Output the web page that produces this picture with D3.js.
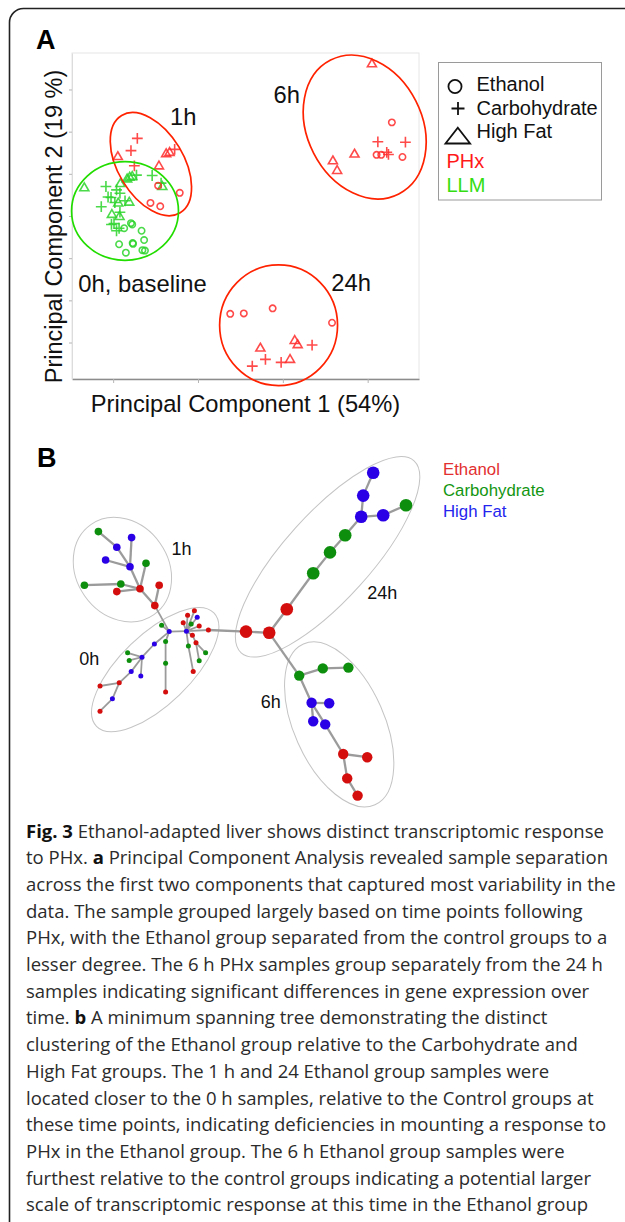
<!DOCTYPE html>
<html lang="en">
<head>
<meta charset="UTF-8">
<title>Fig. 3 PCA and minimum spanning tree</title>
<script src="https://cdn.jsdelivr.net/npm/d3@7"></script>
<style>
  body { margin: 0; background: #fff; }
</style>
</head>
<body>
<script>
// ---------- panel A : PCA scores, [PC1, PC2] ----------
var pc1Ticks = [-20, 0, 20, 40];
var pc2Ticks = [-30, -20, -10, 0, 10, 20, 30];

var phxEthanol = [[-9.4, 7.2], [-4.3, 5.5], [-11.2, 3.1], [-8.9, 2.3],
    [45.7, 22.2], [42.1, 14.5], [43.2, 14.5], [48.2, 14.0],
    [7.6, -23.2], [10.8, -23.1], [17.6, -21.9], [31.6, -25.3]];
var phxCarbohydrate = [[-14.3, 18.4], [-15.8, 15.5], [-5.5, 15.8], [-15.0, 11.9],
    [42.4, 17.6], [48.9, 17.5], [44.5, 15.1], [44.9, 14.6],
    [26.9, -30.6], [15.9, -34.0], [12.8, -35.6], [19.6, -34.7]];
var phxHighFat = [[-18.9, 14.0], [-7.5, 14.7], [-6.7, 15.0], [-9.2, 11.8],
    [41.0, 36.0], [36.9, 14.6], [31.8, 13.0], [32.8, 10.7],
    [14.7, -31.4], [22.8, -29.6], [23.5, -30.6], [21.7, -34.1]];
var llmEthanol = [[-17.4, -2.9], [-15.8, -1.7], [-15.5, -2.0], [-13.3, -3.5], [-18.6, -6.7],
    [-15.4, -6.4], [-15.3, -6.6], [-12.7, -5.7], [-17.0, -8.7], [-13.1, -8.1], [-12.5, -8.2]];
var llmCarbohydrate = [[-21.7, 7.0], [-19.2, 6.2], [-14.5, 9.7], [-10.8, 9.6], [-8.7, 7.8],
    [-21.2, 4.5], [-20.5, 4.4], [-18.4, 5.4], [-19.6, 3.2], [-17.2, 3.6], [-22.8, 2.2],
    [-18.4, 0.9], [-20.4, -2.0], [-19.8, -1.8], [-19.2, -3.5], [-18.6, -2.9]];
var llmHighFat = [[-26.8, 6.6], [-16.7, 8.7], [-16.1, 9.1], [-15.5, 9.3], [-8.4, 6.9],
    [-18.8, 3.0], [-16.2, 3.2], [-20.3, 0.3], [-18.5, -0.2], [-18.3, 7.6]];

// time point rings (PC units): centre, semi axes, tilt in degrees
var pcaRingNames = ["1h", "0h, baseline", "6h", "24h"];
var pcaRingCondition = ["PHx", "LLM", "PHx", "PHx"];
var pcaRingCentres = [[-11.1, 12.3], [-17.2, 1.2], [39.3, 21.1], [19.0, -25.9]];
var pcaRingAxes = [[13.4, 7.8], [12.6, 11.7], [17.7, 13.6], [13.9, 14.3]];
var pcaRingTilt = [59, 0, 63, 0];
var pcaLabelAt = [[-6.6, 21.6], [-28.2, -18.0], [17.8, 26.8], [31.4, -17.7]];

var dietNames = ["Ethanol", "Carbohydrate", "High Fat"];
var conditionNames = ["PHx", "LLM"];

// ---------- panel B : minimum spanning tree (layout units 0-100) ----------
var treeTimes = ["0h", "1h", "6h", "24h"];
// id, layout x, layout y, diet, time
var treeNodes = [
    ["a1", 7.1, 20.4, "Carbohydrate", "1h"], ["a2", 15.4, 21.9, "High Fat", "1h"],
    ["a3", 11.7, 24.3, "High Fat", "1h"], ["a4", 8.9, 27.5, "High Fat", "1h"],
    ["a5", 15.0, 29.2, "High Fat", "1h"], ["a6", 19.0, 28.3, "Carbohydrate", "1h"],
    ["a7", 3.6, 33.8, "Carbohydrate", "1h"], ["a8", 12.7, 33.5, "Carbohydrate", "1h"],
    ["a9", 17.5, 34.7, "Ethanol", "1h"], ["a10", 11.7, 35.4, "Ethanol", "1h"],
    ["a11", 22.3, 33.8, "Ethanol", "1h"], ["a12", 21.2, 38.9, "Ethanol", "1h"],

    ["z1", 24.8, 45.4, "High Fat", "0h"], ["z2", 29.1, 45.3, "High Fat", "0h"],
    ["z3", 22.9, 43.8, "Carbohydrate", "0h"], ["z4", 23.9, 47.9, "Carbohydrate", "0h"],
    ["z5", 23.9, 53.3, "Carbohydrate", "0h"], ["z6", 23.9, 60.5, "Ethanol", "0h"],
    ["z7", 21.1, 48.5, "High Fat", "0h"], ["z8", 18.0, 51.8, "High Fat", "0h"],
    ["z9", 14.4, 50.7, "Carbohydrate", "0h"], ["z10", 14.8, 52.6, "Carbohydrate", "0h"],
    ["z11", 15.3, 55.4, "High Fat", "0h"], ["z12", 17.7, 56.5, "High Fat", "0h"],
    ["z13", 12.3, 58.2, "Ethanol", "0h"], ["z14", 7.5, 59.0, "Ethanol", "0h"],
    ["z15", 10.6, 62.2, "High Fat", "0h"], ["z16", 7.5, 65.3, "Ethanol", "0h"],
    ["z17", 29.4, 41.3, "Ethanol", "0h"], ["z18", 31.1, 40.2, "Ethanol", "0h"],
    ["z19", 31.8, 41.8, "High Fat", "0h"], ["z20", 28.3, 43.2, "Ethanol", "0h"],
    ["z21", 30.3, 43.5, "Carbohydrate", "0h"], ["z22", 32.3, 44.0, "Ethanol", "0h"],
    ["z23", 34.6, 45.0, "Ethanol", "0h"], ["z24", 30.6, 46.3, "Ethanol", "0h"],
    ["z25", 31.5, 48.2, "Ethanol", "0h"], ["z26", 29.6, 49.0, "Carbohydrate", "0h"],
    ["z27", 33.9, 50.7, "Carbohydrate", "0h"], ["z28", 32.3, 52.7, "Carbohydrate", "0h"],
    ["z29", 30.8, 55.4, "Ethanol", "0h"],

    ["d1", 44.0, 45.4, "Ethanol", "24h"], ["d2", 49.8, 45.7, "Ethanol", "24h"],
    ["d3", 54.2, 39.8, "Ethanol", "24h"], ["d4", 60.8, 30.8, "Carbohydrate", "24h"],
    ["d5", 65.0, 25.6, "Carbohydrate", "24h"], ["d6", 68.8, 21.3, "Carbohydrate", "24h"],
    ["d7", 72.8, 16.7, "High Fat", "24h"], ["d8", 78.3, 16.3, "High Fat", "24h"],
    ["d9", 84.0, 13.8, "Carbohydrate", "24h"], ["d10", 73.3, 11.4, "High Fat", "24h"],
    ["d11", 75.8, 5.7, "High Fat", "24h"],

    ["s1", 57.3, 56.4, "Carbohydrate", "6h"], ["s2", 63.2, 54.6, "Carbohydrate", "6h"],
    ["s3", 69.6, 54.4, "Carbohydrate", "6h"], ["s4", 60.4, 63.2, "High Fat", "6h"],
    ["s5", 64.8, 63.3, "High Fat", "6h"], ["s6", 60.8, 67.8, "High Fat", "6h"],
    ["s7", 63.8, 68.6, "High Fat", "6h"], ["s8", 68.3, 76.0, "Ethanol", "6h"],
    ["s9", 74.3, 76.8, "Ethanol", "6h"], ["s10", 69.3, 82.1, "Ethanol", "6h"],
    ["s11", 71.9, 86.4, "Ethanol", "6h"]
];
var treeEdges = [
    ["a1", "a3"], ["a3", "a5"], ["a4", "a5"], ["a2", "a5"], ["a5", "a9"], ["a6", "a9"],
    ["a7", "a8"], ["a8", "a9"], ["a10", "a9"], ["a9", "a12"], ["a11", "a12"], ["a12", "z1"],
    ["z1", "z2"], ["z1", "z3"], ["z1", "z4"], ["z4", "z5"], ["z5", "z6"], ["z1", "z7"],
    ["z7", "z8"], ["z8", "z9"], ["z8", "z10"], ["z8", "z11"], ["z11", "z13"], ["z8", "z12"],
    ["z13", "z14"], ["z13", "z15"], ["z15", "z16"],
    ["z2", "z17"], ["z2", "z18"], ["z2", "z19"], ["z2", "z20"], ["z2", "z21"], ["z2", "z22"],
    ["z2", "z23"], ["z2", "z24"], ["z24", "z25"], ["z25", "z27"], ["z25", "z28"],
    ["z2", "z26"], ["z26", "z29"],
    ["z23", "d1"], ["d1", "d2"], ["d2", "d3"], ["d3", "d4"], ["d4", "d5"], ["d5", "d6"],
    ["d6", "d7"], ["d7", "d8"], ["d8", "d9"], ["d7", "d10"], ["d10", "d11"],
    ["d2", "s1"], ["s1", "s2"], ["s2", "s3"], ["s1", "s4"], ["s4", "s5"], ["s4", "s6"],
    ["s4", "s7"], ["s7", "s8"], ["s8", "s9"], ["s8", "s10"], ["s10", "s11"]
];
var treeRingNames = ["1h", "0h", "24h", "6h"];
var treeRingCentres = [[13.1, 29.9], [21.3, 54.9], [64.4, 26.7], [67.3, 68.6]];
var treeRingAxes = [[13.75, 11.5], [20.4, 8.75], [32.3, 10.8], [22.0, 11.3]];
var treeRingTilt = [55, -44, -48, 66];
var treeLabelAt = [[25.4, 26.3], [2.3, 53.8], [74.3, 37.3], [47.7, 64.4]];

var captionLines = [
    "**Fig. 3** Ethanol-adapted liver shows distinct transcriptomic response",
    "to PHx. **a** Principal Component Analysis revealed sample separation",
    "across the first two components that captured most variability in the",
    "data. The sample grouped largely based on time points following",
    "PHx, with the Ethanol group separated from the control groups to a",
    "lesser degree. The 6 h PHx samples group separately from the 24 h",
    "samples indicating significant differences in gene expression over",
    "time. **b** A minimum spanning tree demonstrating the distinct",
    "clustering of the Ethanol group relative to the Carbohydrate and",
    "High Fat groups. The 1 h and 24 Ethanol group samples were",
    "located closer to the 0 h samples, relative to the Control groups at",
    "these time points, indicating deficiencies in mounting a response to",
    "PHx in the Ethanol group. The 6 h Ethanol group samples were",
    "furthest relative to the control groups indicating a potential larger",
    "scale of transcriptomic response at this time in the Ethanol group"
];

var W = 625, H = 1222;
var svg = d3.select("body").append("svg")
    .attr("width", W)
    .attr("height", H)
    .style("font-family", "'Liberation Sans', Arial, Helvetica, sans-serif");

// outer rounded frame, runs off the right and bottom edges
svg.append("rect")
    .attr("x", 9.5).attr("y", 8.5)
    .attr("width", 700).attr("height", 1300)
    .attr("rx", 14)
    .attr("fill", "none")
    .attr("stroke", "#222")
    .attr("stroke-width", 1.6);

//================ panel A ================
function drawPanelA(){
    var box = {left: 72, right: 419, top: 53, bottom: 379};
    var x = d3.scaleLinear().domain([-29.7, 52.1]).range([box.left, box.right]);
    var y = d3.scaleLinear().domain([-38.65, 38.65]).range([box.bottom, box.top]);
    var condColour = d3.scaleOrdinal(conditionNames, ["#ff2a2a", "#2ad42a"]);
    var ringColour = d3.scaleOrdinal(conditionNames, ["#ff2200", "#22dd00"]);

    svg.append("text").attr("x", 36).attr("y", 49)
        .attr("font-size", 27).attr("font-weight", "bold").text("A");

    // plot frame
    svg.append("rect")
        .attr("x", box.left).attr("y", box.top)
        .attr("width", box.right - box.left).attr("height", box.bottom - box.top)
        .attr("fill", "none").attr("stroke", "#e6e6e6");

    svg.append("g")
        .attr("transform", "translate(0," + box.bottom + ")")
        .call(d3.axisBottom(x).tickValues(pc1Ticks).tickFormat("").tickSize(4).tickSizeOuter(0))
        .call(function(g){
            g.select(".domain").attr("stroke", "#8c8c8c").attr("stroke-width", 1.6);
            g.selectAll(".tick line").attr("stroke", "#b5b5b5");
        });
    svg.append("g")
        .attr("transform", "translate(" + box.left + ",0)")
        .call(d3.axisLeft(y).tickValues(pc2Ticks).tickFormat("").tickSize(3).tickSizeOuter(0))
        .call(function(g){
            g.select(".domain").attr("stroke", "#dcdcdc");
            g.selectAll(".tick line").attr("stroke", "#b5b5b5");
        });

    // axis titles
    svg.append("text")
        .attr("x", 245.5).attr("y", 412)
        .attr("text-anchor", "middle").attr("font-size", 23.7).attr("fill", "#111")
        .text("Principal Component 1 (54%)");
    svg.append("text")
        .attr("transform", "translate(62,226.5) rotate(-90)")
        .attr("text-anchor", "middle").attr("font-size", 23.5).attr("fill", "#111")
        .text("Principal Component 2 (19 %)");

    // scatter, one symbol per diet
    var symCircle = d3.symbol().type(d3.symbolCircle).size(32);
    var symPlus = d3.symbol().type(d3.symbolPlus).size(40);
    var symTri = d3.symbol().type(d3.symbolTriangle2).size(58);
    var series = [
        [llmEthanol, symCircle, "LLM"], [llmCarbohydrate, symPlus, "LLM"], [llmHighFat, symTri, "LLM"],
        [phxEthanol, symCircle, "PHx"], [phxCarbohydrate, symPlus, "PHx"], [phxHighFat, symTri, "PHx"]
    ];
    series.forEach(function(s){
        svg.append("g").selectAll("path")
            .data(s[0])
            .enter()
            .append("path")
            .attr("transform", function(d){ return "translate(" + x(d[0]) + "," + y(d[1]) + ")"; })
            .attr("d", s[1])
            .attr("fill", "none")
            .attr("stroke", condColour(s[2]))
            .attr("stroke-width", 1.6)
            .attr("opacity", 0.85);
    });

    // time point rings
    pcaRingNames.forEach(function(name, i){
        var c = pcaRingCentres[i], a = pcaRingAxes[i];
        var cx = x(c[0]), cy = y(c[1]);
        svg.append("ellipse")
            .attr("rx", x(c[0] + a[0]) - cx)
            .attr("ry", cy - y(c[1] + a[1]))
            .attr("transform", "translate(" + cx + "," + cy + ") rotate(" + pcaRingTilt[i] + ")")
            .attr("fill", "none")
            .attr("stroke", ringColour(pcaRingCondition[i]))
            .attr("stroke-width", 1.7);
        svg.append("text")
            .attr("x", x(pcaLabelAt[i][0])).attr("y", y(pcaLabelAt[i][1]))
            .attr("font-size", 23.8).attr("fill", "#111")
            .text(name);
    });

    // legend
    var lg = svg.append("g");
    lg.append("rect").attr("x", 438.5).attr("y", 62.5).attr("width", 163).attr("height", 137.5)
        .attr("fill", "#fff").attr("stroke", "#9a9a9a");
    var legendSym = [d3.symbol().type(d3.symbolCircle).size(135), d3.symbol().type(d3.symbolPlus).size(57), null];
    var legendPos = [[455, 86.5], [458, 108.5], [457.8, 136]];
    dietNames.forEach(function(name, i){
        if(legendSym[i]){
            lg.append("path")
                .attr("transform", "translate(" + legendPos[i][0] + "," + legendPos[i][1] + ")")
                .attr("d", legendSym[i])
                .attr("fill", "none").attr("stroke", "#111").attr("stroke-width", 1.8);
        } else {
            // wide open triangle
            var p = d3.path();
            p.moveTo(-12.3, 7.5); p.lineTo(0, -8.3); p.lineTo(12.3, 7.5); p.closePath();
            lg.append("path")
                .attr("transform", "translate(" + legendPos[i][0] + "," + legendPos[i][1] + ")")
                .attr("d", p.toString())
                .attr("fill", "none").attr("stroke", "#111").attr("stroke-width", 1.8);
        }
        lg.append("text").attr("x", 476.5).attr("y", 91 + i * 23.5)
            .attr("font-size", 20).attr("fill", "#111").text(name);
    });
    conditionNames.forEach(function(name, i){
        lg.append("text").attr("x", 446.5).attr("y", 168 + i * 24)
            .attr("font-size", 20).attr("fill", i == 0 ? "#ff1a1a" : "#33dd11").text(name);
    });
}

//================ panel B ================
function drawPanelB(){
    var bx = d3.scaleLinear().domain([0, 100]).range([70, 470]);
    var by = d3.scaleLinear().domain([0, 100]).range([450, 850]);
    var dietColour = d3.scaleOrdinal(dietNames, ["#d40a0a", "#0c8f0c", "#2a00e6"]);
    var nodeR = d3.scaleOrdinal(treeTimes, [2.5, 3.8, 5.2, 6.3]);

    svg.append("text").attr("x", 37).attr("y", 467)
        .attr("font-size", 27).attr("font-weight", "bold").text("B");

    var defs = svg.append("defs");
    defs.append("filter").attr("id", "soft")
        .append("feGaussianBlur").attr("stdDeviation", 0.45);

    // cluster rings
    treeRingNames.forEach(function(name, i){
        var c = treeRingCentres[i], a = treeRingAxes[i];
        var cx = bx(c[0]), cy = by(c[1]);
        svg.append("ellipse")
            .attr("rx", bx(c[0] + a[0]) - cx)
            .attr("ry", by(c[1] + a[1]) - cy)
            .attr("transform", "translate(" + cx + "," + cy + ") rotate(" + treeRingTilt[i] + ")")
            .attr("fill", "none").attr("stroke", "#c4c4c4").attr("stroke-width", 1);
        svg.append("text")
            .attr("x", bx(treeLabelAt[i][0])).attr("y", by(treeLabelAt[i][1]))
            .attr("font-size", 18).attr("fill", "#111").text(name);
    });

    var byId = {};
    treeNodes.forEach(function(n){ byId[n[0]] = n; });

    svg.append("g").selectAll("line")
        .data(treeEdges)
        .enter()
        .append("line")
        .attr("x1", function(d){ return bx(byId[d[0]][1]); })
        .attr("y1", function(d){ return by(byId[d[0]][2]); })
        .attr("x2", function(d){ return bx(byId[d[1]][1]); })
        .attr("y2", function(d){ return by(byId[d[1]][2]); })
        .attr("stroke", "#9b9b9b")
        .attr("stroke-width", function(d){
            return byId[d[1]][4] == "0h" ? 1.8 : 2.3;
        });

    svg.append("g").attr("filter", "url(#soft)").selectAll("circle")
        .data(treeNodes)
        .enter()
        .append("circle")
        .attr("cx", function(d){ return bx(d[1]); })
        .attr("cy", function(d){ return by(d[2]); })
        .attr("r", function(d){ return nodeR(d[4]); })
        .attr("fill", function(d){ return dietColour(d[3]); });

    // legend
    var legendColour = ["#e23030", "#129612", "#2424ee"];
    dietNames.forEach(function(name, i){
        svg.append("text").attr("x", 443).attr("y", 475 + i * 21)
            .attr("font-size", 16.8).attr("fill", legendColour[i]).text(name);
    });
}

//================ caption ================
function drawCaption(){
    var cap = svg.append("text")
        .attr("font-family", "'Open Sans', 'Noto Sans', sans-serif")
        .attr("font-size", 18.5)
        .attr("fill", "#2b2b2b");
    captionLines.forEach(function(line, i){
        var parts = line.split("**");
        var first = true;
        parts.forEach(function(part, j){
            if(part.length == 0) return;
            var t = cap.append("tspan").text(part);
            if(first){
                t.attr("x", 26).attr("y", 837.5 + i * 26.7);
                first = false;
            }
            if(j % 2 == 1){
                t.attr("font-weight", "bold").attr("fill", "#111");
            }
        });
    });
}

drawPanelA();
drawPanelB();
drawCaption();
</script>
</body>
</html>
